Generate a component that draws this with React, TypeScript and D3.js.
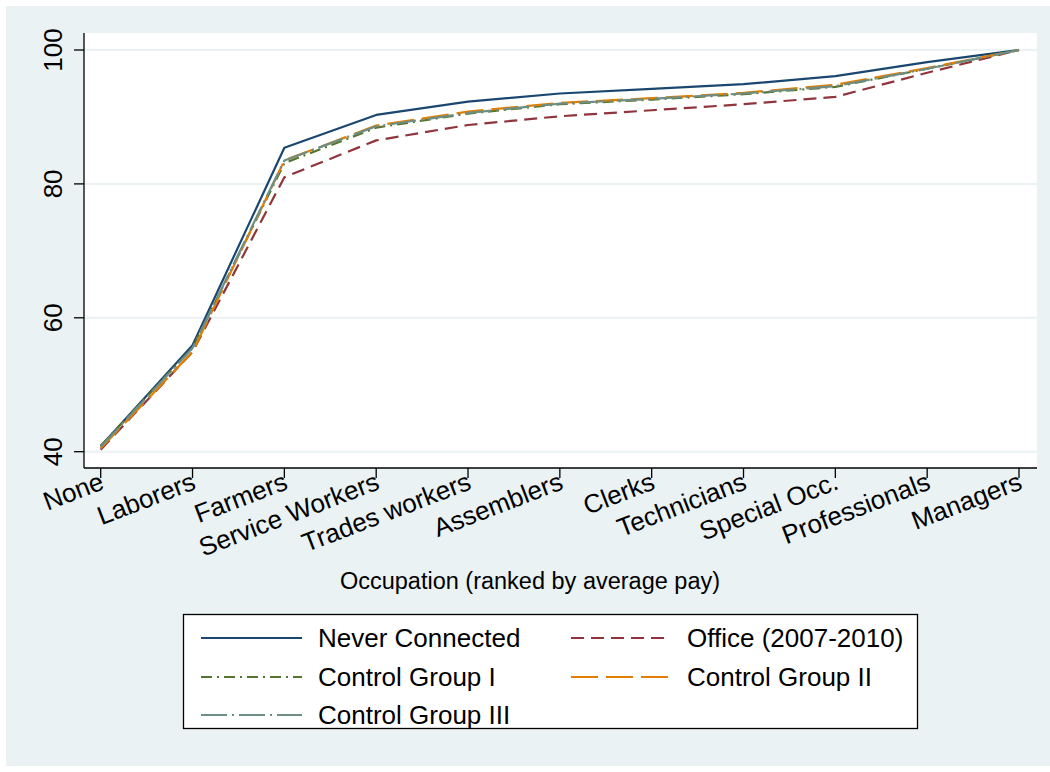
import React from "react";
import * as d3 from "d3";

const categories = [
  "None", "Laborers", "Farmers", "Service Workers", "Trades workers", "Assemblers",
  "Clerks", "Technicians", "Special Occ.", "Professionals", "Managers",
];
const neverConnected = [40.8, 55.9, 85.4, 90.3, 92.3, 93.5, 94.2, 94.9, 96.1, 98.2, 100];
const office = [40.3, 54.9, 81.0, 86.5, 88.8, 90.1, 91.0, 91.9, 93.0, 96.6, 100];
const controlI = [40.9, 55.5, 83.1, 88.4, 90.5, 91.9, 92.6, 93.4, 94.5, 97.2, 100];
const controlII = [40.5, 54.9, 83.5, 88.7, 90.8, 92.1, 92.8, 93.6, 94.8, 97.3, 100];
const controlIII = [40.7, 55.5, 83.5, 88.6, 90.6, 92.0, 92.7, 93.5, 94.6, 97.2, 100];
const yTicks = [40, 60, 80, 100];
const seriesNames = ["Never Connected", "Office (2007-2010)", "Control Group I", "Control Group II", "Control Group III"];

const W = 1050, H = 772;
const plot = { left: 84, right: 1037, top: 33, bottom: 468 };
const FONT = "'Liberation Sans', Arial, Helvetica, sans-serif";

const styles = [
  { color: "#1a476f", dash: "none" },
  { color: "#90353b", dash: "13 7" },
  { color: "#55752f", dash: "11 5 2 5" },
  { color: "#e37e00", dash: "27 8" },
  { color: "#6e8e84", dash: "26 5 2 5" },
];

export default function App() {
  const x = d3.scalePoint<string>().domain(categories).range([100.7, 1019]);
  const y = d3.scaleLinear().domain([40, 100]).range([451.7, 50]);
  const series = [neverConnected, office, controlI, controlII, controlIII];
  const line = d3.line<number>()
    .x((_, i) => x(categories[i]) as number)
    .y((d) => y(d));

  const legendItems = [
    { i: 0, col: 0, row: 0 },
    { i: 1, col: 1, row: 0 },
    { i: 2, col: 0, row: 1 },
    { i: 3, col: 1, row: 1 },
    { i: 4, col: 0, row: 2 },
  ];
  const colX = [{ l0: 201, l1: 302, t: 318 }, { l0: 571, l1: 668, t: 687 }];
  const rowY = [638, 677, 715];

  return (
    <div style={{ position: "absolute", left: 0, top: 0 }}>
      <svg width={W} height={H} style={{ display: "block" }} fontFamily={FONT}>
        <rect x={0} y={0} width={W} height={H} fill="#ffffff" />
        <rect x={6} y={6} width={W - 6} height={H - 12} fill="#eaf2f3" />
        <rect x={plot.left} y={plot.top} width={plot.right - plot.left} height={plot.bottom - plot.top} fill="#ffffff" />
        {yTicks.map((t) => (
          <line key={"g" + t} x1={plot.left} x2={plot.right} y1={y(t)} y2={y(t)} stroke="#eaf2f3" strokeWidth={2} />
        ))}
        {series.map((s, k) => (
          <path key={"s" + k} d={line(s) || ""} fill="none" stroke={styles[k].color}
            strokeWidth={2.2} strokeDasharray={styles[k].dash} strokeLinejoin="round" />
        ))}
        <line x1={plot.left} x2={plot.left} y1={plot.top} y2={plot.bottom} stroke="#000" strokeWidth={1.3} />
        <line x1={plot.left} x2={plot.right} y1={plot.bottom} y2={plot.bottom} stroke="#000" strokeWidth={1.3} />
        {yTicks.map((t) => (
          <g key={"yt" + t}>
            <line x1={plot.left - 10} x2={plot.left} y1={y(t)} y2={y(t)} stroke="#000" strokeWidth={1.3} />
            <text transform={`translate(62,${y(t)}) rotate(-90)`} textAnchor="middle" fontSize={26} fill="#000">{t}</text>
          </g>
        ))}
        {categories.map((c) => (
          <g key={"xt" + c}>
            <line x1={x(c)} x2={x(c)} y1={plot.bottom} y2={plot.bottom + 10} stroke="#000" strokeWidth={1.3} />
            <text transform={`translate(${(x(c) as number) - 2},${plot.bottom + 3}) rotate(-21)`} textAnchor="end"
              dy="0.72em" fontSize={26} fill="#000">{c}</text>
          </g>
        ))}
        <text x={530} y={589} textAnchor="middle" fontSize={23.5} fill="#000">
          Occupation (ranked by average pay)
        </text>
        <rect x={183.5} y={614.5} width={734} height={114} fill="#ffffff" stroke="#000" strokeWidth={1.3} />
        {legendItems.map((it) => (
          <g key={"lg" + it.i}>
            <line x1={colX[it.col].l0} x2={colX[it.col].l1} y1={rowY[it.row]} y2={rowY[it.row]}
              stroke={styles[it.i].color} strokeWidth={2.2} strokeDasharray={styles[it.i].dash} />
            <text x={colX[it.col].t} y={rowY[it.row]} dy="0.36em" fontSize={26} fill="#000">{seriesNames[it.i]}</text>
          </g>
        ))}
      </svg>
    </div>
  );
}
